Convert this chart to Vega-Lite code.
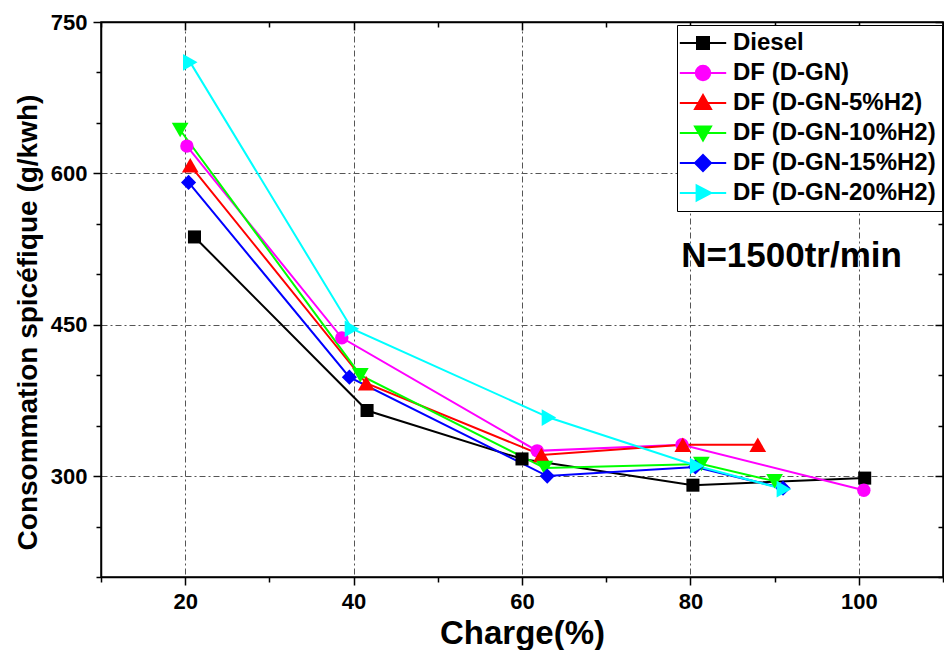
{
  "$schema": "https://vega.github.io/schema/vega-lite/v6.json",
  "width": 842,
  "height": 555,
  "autosize": {"type": "none"},
  "padding": {"left": 101, "top": 22, "right": 1, "bottom": 73},
  "background": "white",
  "config": {
    "font": "Liberation Sans",
    "view": {"stroke": "black", "strokeWidth": 1.5},
    "axis": {
      "domainColor": "black", "domainWidth": 1.5,
      "tickColor": "black", "tickWidth": 1.5,
      "labelFont": "Liberation Sans", "labelFontWeight": "bold", "labelColor": "black",
      "titleFont": "Liberation Sans", "titleFontWeight": "bold", "titleColor": "black",
      "titleLimit": 1000,
      "gridColor": "#555555", "gridWidth": 1, "gridDash": [6, 3, 2, 3]
    }
  },
  "datasets": {
    "pts": [
      {"serie": "Diesel", "charge": 21.1, "conso": 537},
      {"serie": "Diesel", "charge": 41.6, "conso": 365},
      {"serie": "Diesel", "charge": 60.0, "conso": 317},
      {"serie": "Diesel", "charge": 80.3, "conso": 291},
      {"serie": "Diesel", "charge": 100.7, "conso": 298},
      {"serie": "DF (D-GN)", "charge": 20.2, "conso": 627},
      {"serie": "DF (D-GN)", "charge": 38.6, "conso": 437},
      {"serie": "DF (D-GN)", "charge": 61.8, "conso": 325},
      {"serie": "DF (D-GN)", "charge": 79.0, "conso": 331},
      {"serie": "DF (D-GN)", "charge": 100.6, "conso": 286},
      {"serie": "DF (D-GN-5%H2)", "charge": 20.6, "conso": 608},
      {"serie": "DF (D-GN-5%H2)", "charge": 41.5, "conso": 392},
      {"serie": "DF (D-GN-5%H2)", "charge": 62.3, "conso": 321},
      {"serie": "DF (D-GN-5%H2)", "charge": 79.1, "conso": 331},
      {"serie": "DF (D-GN-5%H2)", "charge": 88.0, "conso": 331},
      {"serie": "DF (D-GN-10%H2)", "charge": 19.4, "conso": 643},
      {"serie": "DF (D-GN-10%H2)", "charge": 40.8, "conso": 400},
      {"serie": "DF (D-GN-10%H2)", "charge": 62.7, "conso": 308},
      {"serie": "DF (D-GN-10%H2)", "charge": 81.3, "conso": 312},
      {"serie": "DF (D-GN-10%H2)", "charge": 90.0, "conso": 295},
      {"serie": "DF (D-GN-15%H2)", "charge": 20.4, "conso": 591},
      {"serie": "DF (D-GN-15%H2)", "charge": 39.5, "conso": 398},
      {"serie": "DF (D-GN-15%H2)", "charge": 63.0, "conso": 300},
      {"serie": "DF (D-GN-15%H2)", "charge": 80.6, "conso": 309},
      {"serie": "DF (D-GN-15%H2)", "charge": 91.0, "conso": 288},
      {"serie": "DF (D-GN-20%H2)", "charge": 20.6, "conso": 710},
      {"serie": "DF (D-GN-20%H2)", "charge": 39.8, "conso": 446},
      {"serie": "DF (D-GN-20%H2)", "charge": 63.2, "conso": 358},
      {"serie": "DF (D-GN-20%H2)", "charge": 80.8, "conso": 310},
      {"serie": "DF (D-GN-20%H2)", "charge": 91.1, "conso": 287}
    ]
  },
  "data": {"name": "pts"},
  "layer": [
    {
      "mark": {"type": "line", "strokeWidth": 2},
      "encoding": {
        "x": {
          "field": "charge", "type": "quantitative",
          "scale": {"domain": [10, 110], "nice": false, "zero": false},
          "axis": {
            "orient": "bottom", "title": "Charge(%)", "titleFontSize": 33, "titlePadding": 5,
            "values": [10, 20, 30, 40, 50, 60, 70, 80, 90, 100, 110],
            "labelExpr": "datum.value % 20 === 0 ? datum.label : ''",
            "labelFontSize": 22, "labelPadding": 6,
            "tickSize": {"condition": {"test": "datum.value % 20 === 0", "value": 8}, "value": 5},
            "grid": true,
            "gridOpacity": {"condition": {"test": "datum.value % 20 === 0", "value": 1}, "value": 0}
          }
        },
        "y": {
          "field": "conso", "type": "quantitative",
          "scale": {"domain": [200, 750], "nice": false, "zero": false},
          "axis": {
            "orient": "left", "title": "Consommation spicéfique (g/kwh)", "titleFontSize": 28, "titlePadding": 8, "titleY": 300, "titleLimit": 1000,
            "values": [200, 250, 300, 350, 400, 450, 500, 550, 600, 650, 700, 750],
            "labelExpr": "datum.value % 150 === 0 ? datum.label : ''",
            "labelFontSize": 22, "labelPadding": 6,
            "tickSize": {"condition": {"test": "datum.value % 150 === 0", "value": 8}, "value": 5},
            "grid": true,
            "gridOpacity": {"condition": {"test": "datum.value % 150 === 0 && datum.value < 750", "value": 1}, "value": 0}
          }
        },
        "color": {
          "field": "serie", "type": "nominal",
          "scale": {
            "domain": ["Diesel", "DF (D-GN)", "DF (D-GN-5%H2)", "DF (D-GN-10%H2)", "DF (D-GN-15%H2)", "DF (D-GN-20%H2)"],
            "range": ["#000000", "#FF00FF", "#FF0000", "#00FF00", "#0000FF", "#00FFFF"]
          },
          "legend": {
            "title": null, "orient": "none", "legendX": 576, "legendY": 3,
            "labelFontSize": 24, "labelFont": "Liberation Sans", "labelFontWeight": "bold", "labelColor": "black",
            "labelLimit": 400, "symbolSize": 256, "symbolStrokeWidth": 2,
            "padding": 6, "symbolOffset": 8, "labelOffset": 18, "rowPadding": 6,
            "strokeColor": "black", "fillColor": "white",
            "encode": {
              "symbols": {
                "update": {
                  "shape": {"signal": "datum.value === 'Diesel' ? 'M-2.9,0H2.9M-0.75,-0.75H0.75V0.75H-0.75Z' : datum.value === 'DF (D-GN)' ? 'M-2.9,0H2.9M-0.9,0A0.9,0.9,0,1,0,0.9,0A0.9,0.9,0,1,0,-0.9,0Z' : datum.value === 'DF (D-GN-5%H2)' ? 'M-2.9,0H2.9M0,-1L1,0.75H-1Z' : datum.value === 'DF (D-GN-10%H2)' ? 'M-2.9,0H2.9M0,0.95L1,-0.8H-1Z' : datum.value === 'DF (D-GN-15%H2)' ? 'M-2.9,0H2.9M0,-1L1,0L0,1L-1,0Z' : 'M-2.9,0H2.9M1,0L-0.8,-0.95V0.95Z'"},
                  "fill": {"scale": "color", "field": "value"},
                  "stroke": {"scale": "color", "field": "value"},
                  "strokeWidth": {"value": 2},
                  "opacity": {"value": 1}
                }
              }
            }
          }
        }
      }
    },
    {
      "transform": [{"filter": "datum.serie === 'Diesel'"}],
      "mark": {"type": "point", "shape": "square", "filled": true, "opacity": 1, "size": 170},
      "encoding": {
        "x": {"field": "charge", "type": "quantitative", "axis": null},
        "y": {"field": "conso", "type": "quantitative", "axis": null},
        "color": {"field": "serie", "type": "nominal", "legend": null}
      }
    },
    {
      "transform": [{"filter": "datum.serie === 'DF (D-GN)'"}],
      "mark": {"type": "point", "shape": "circle", "filled": true, "opacity": 1, "size": 180},
      "encoding": {
        "x": {"field": "charge", "type": "quantitative", "axis": null},
        "y": {"field": "conso", "type": "quantitative", "axis": null},
        "color": {"field": "serie", "type": "nominal", "legend": null}
      }
    },
    {
      "transform": [{"filter": "datum.serie === 'DF (D-GN-5%H2)'"}],
      "mark": {"type": "point", "shape": "triangle-up", "filled": true, "opacity": 1, "size": 280},
      "encoding": {
        "x": {"field": "charge", "type": "quantitative", "axis": null},
        "y": {"field": "conso", "type": "quantitative", "axis": null},
        "color": {"field": "serie", "type": "nominal", "legend": null}
      }
    },
    {
      "transform": [{"filter": "datum.serie === 'DF (D-GN-10%H2)'"}],
      "mark": {"type": "point", "shape": "triangle-down", "filled": true, "opacity": 1, "size": 280},
      "encoding": {
        "x": {"field": "charge", "type": "quantitative", "axis": null},
        "y": {"field": "conso", "type": "quantitative", "axis": null},
        "color": {"field": "serie", "type": "nominal", "legend": null}
      }
    },
    {
      "transform": [{"filter": "datum.serie === 'DF (D-GN-15%H2)'"}],
      "mark": {"type": "point", "shape": "diamond", "filled": true, "opacity": 1, "size": 230},
      "encoding": {
        "x": {"field": "charge", "type": "quantitative", "axis": null},
        "y": {"field": "conso", "type": "quantitative", "axis": null},
        "color": {"field": "serie", "type": "nominal", "legend": null}
      }
    },
    {
      "transform": [{"filter": "datum.serie === 'DF (D-GN-20%H2)'"}],
      "mark": {"type": "point", "shape": "triangle-right", "filled": true, "opacity": 1, "size": 280},
      "encoding": {
        "x": {"field": "charge", "type": "quantitative", "axis": null},
        "y": {"field": "conso", "type": "quantitative", "axis": null},
        "color": {"field": "serie", "type": "nominal", "legend": null}
      }
    },
    {
      "data": {"values": [{"label": "N=1500tr/min"}]},
      "mark": {"type": "text", "fontSize": 35, "fontWeight": "bold", "align": "left", "baseline": "middle", "font": "Liberation Sans", "color": "black"},
      "encoding": {
        "x": {
          "datum": 78.9, "type": "quantitative",
          "axis": {
            "orient": "top", "title": null, "labels": false, "grid": false,
            "values": [10, 20, 30, 40, 50, 60, 70, 80, 90, 100, 110],
            "tickSize": {"condition": {"test": "datum.value % 20 === 0", "value": -8}, "value": -5}
          }
        },
        "y": {
          "datum": 518, "type": "quantitative",
          "axis": {
            "orient": "right", "title": null, "labels": false, "grid": false,
            "values": [200, 250, 300, 350, 400, 450, 500, 550, 600, 650, 700, 750],
            "tickSize": {"condition": {"test": "datum.value % 150 === 0", "value": -8}, "value": -5}
          }
        },
        "text": {"field": "label"}
      }
    }
  ],
  "resolve": {"axis": {"x": "independent", "y": "independent"}}
}
